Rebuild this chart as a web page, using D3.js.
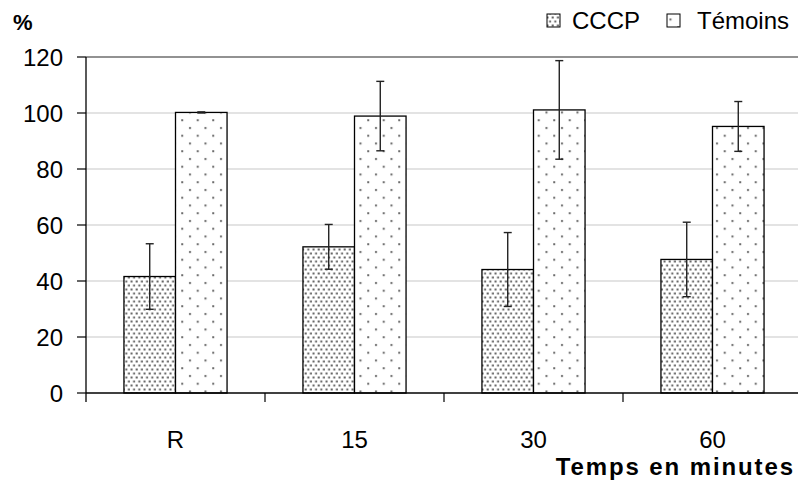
<!DOCTYPE html>
<html><head><meta charset="utf-8">
<script src="https://cdn.jsdelivr.net/npm/d3@7"></script>
<style>body{margin:0;background:#fff}svg{display:block}text{font-family:"Liberation Sans",Arial,sans-serif}</style>
</head><body>
<svg id="c" width="798" height="482"></svg>
<script>
const categories = ["R", "15", "30", "60"];
const seriesNames = ["CCCP", "Témoins"];
const cccpValues = [41.6, 52.2, 44.1, 47.7];
const cccpErrors = [11.7, 8.0, 13.2, 13.3];
const temoinsValues = [100.2, 98.9, 101.1, 95.2];
const temoinsErrors = [0.2, 12.4, 17.6, 8.9];
const yTicks = [0, 20, 40, 60, 80, 100, 120];

(function () {
const svg = d3.select("#c");
const mLeft = 86, mRight = 802, mTop = 57, mBottom = 393;
const x = d3.scaleBand().domain(categories).range([mLeft, mRight]).paddingInner(0).paddingOuter(0);
const y = d3.scaleLinear().domain([0, 120]).range([mBottom, mTop]);

const defs = svg.append("defs");
const p1 = defs.append("pattern").attr("id", "pCCCP").attr("patternUnits", "userSpaceOnUse")
  .attr("width", 5.2).attr("height", 8);
p1.append("rect").attr("width", 5.2).attr("height", 8).attr("fill", "#fff");
p1.append("rect").attr("x", 0.5).attr("y", 0.5).attr("width", 2).attr("height", 2).attr("fill", "#666");
p1.append("rect").attr("x", 3.1).attr("y", 4.5).attr("width", 2).attr("height", 2).attr("fill", "#666");
const p2 = defs.append("pattern").attr("id", "pTem").attr("patternUnits", "userSpaceOnUse")
  .attr("width", 15.5).attr("height", 15.5);
p2.append("rect").attr("width", 15.5).attr("height", 15.5).attr("fill", "#fff");
p2.append("rect").attr("x", 3).attr("y", 3).attr("width", 2).attr("height", 2).attr("fill", "#6a6a6a");
p2.append("rect").attr("x", 10.75).attr("y", 10.75).attr("width", 2).attr("height", 2).attr("fill", "#6a6a6a");

// gridlines
svg.append("g").selectAll("line").data(yTicks.filter(d => d > 0)).join("line")
  .attr("x1", mLeft).attr("x2", 798).attr("y1", d => y(d)).attr("y2", d => y(d))
  .attr("stroke", d => d === 120 ? "#6e6e6e" : "#c8c8c8").attr("stroke-width", d => d === 120 ? 1.6 : 1.2);

// bars
const bw = x.bandwidth() * 0.288;
const data = categories.map((c, i) => ({c, v: [cccpValues[i], temoinsValues[i]], e: [cccpErrors[i], temoinsErrors[i]]}));
const fills = ["url(#pCCCP)", "url(#pTem)"];
const g = svg.append("g");
data.forEach(d => {
  const cx = x(d.c) + x.bandwidth() / 2;
  [0, 1].forEach(s => {
    const x0 = s === 0 ? cx - bw : cx;
    g.append("rect").attr("x", x0).attr("y", y(d.v[s])).attr("width", bw).attr("height", y(0) - y(d.v[s]))
      .attr("fill", fills[s]).attr("stroke", "#000").attr("stroke-width", 1.3);
  });
});
// error bars
data.forEach(d => {
  const cx = x(d.c) + x.bandwidth() / 2;
  [0, 1].forEach(s => {
    const ex = s === 0 ? cx - bw / 2 : cx + bw / 2;
    const hi = y(d.v[s] + d.e[s]), lo = y(d.v[s] - d.e[s]);
    g.append("line").attr("x1", ex).attr("x2", ex).attr("y1", hi).attr("y2", lo).attr("stroke", "#222").attr("stroke-width", 1.4);
    [hi, lo].forEach(yy => g.append("line").attr("x1", ex - 4).attr("x2", ex + 4).attr("y1", yy).attr("y2", yy)
      .attr("stroke", "#222").attr("stroke-width", 1.4));
  });
});

// y axis
const ya = svg.append("g");
ya.append("line").attr("x1", mLeft).attr("x2", mLeft).attr("y1", mTop).attr("y2", mBottom + 9).attr("stroke", "#000").attr("stroke-width", 1.3);
ya.selectAll(".t").data(yTicks).join("line").attr("class", "t")
  .attr("x1", mLeft - 9).attr("x2", mLeft).attr("y1", d => y(d)).attr("y2", d => y(d)).attr("stroke", "#000").attr("stroke-width", 1.2);
ya.selectAll("text").data(yTicks).join("text")
  .attr("x", 63).attr("y", d => y(d)).attr("dy", "0.36em").attr("text-anchor", "end")
  .attr("font-size", 24).attr("fill", "#000").text(d => d);

// x axis
const xa = svg.append("g");
xa.append("line").attr("x1", mLeft).attr("x2", 798).attr("y1", mBottom).attr("y2", mBottom).attr("stroke", "#000").attr("stroke-width", 1.3);
xa.selectAll(".t").data(categories.slice(1)).join("line").attr("class", "t")
  .attr("x1", d => x(d)).attr("x2", d => x(d)).attr("y1", mBottom).attr("y2", mBottom + 9).attr("stroke", "#000").attr("stroke-width", 1.2);
xa.selectAll("text").data(categories).join("text")
  .attr("x", d => x(d) + x.bandwidth() / 2).attr("y", 448).attr("text-anchor", "middle")
  .attr("font-size", 24).attr("fill", "#000").text(d => d);

// titles
svg.append("text").attr("x", 13).attr("y", 30).attr("font-size", 22).attr("font-weight", "bold").text("%");
svg.append("text").attr("x", 795).attr("y", 475).attr("text-anchor", "end").attr("font-size", 24)
  .attr("font-weight", "bold").attr("letter-spacing", 1.9).text("Temps en minutes");

// legend
const leg = svg.append("g");
const legItems = [{n: seriesNames[0], f: fills[0], bx: 547, tx: 572}, {n: seriesNames[1], f: fills[1], bx: 667, tx: 697}];
legItems.forEach(it => {
  leg.append("rect").attr("x", it.bx).attr("y", 14).attr("width", 13).attr("height", 13)
    .attr("fill", it.f).attr("stroke", "#000").attr("stroke-width", 1);
  leg.append("text").attr("x", it.tx).attr("y", 29).attr("font-size", 24).text(it.n);
});
})();
</script>
</body></html>
